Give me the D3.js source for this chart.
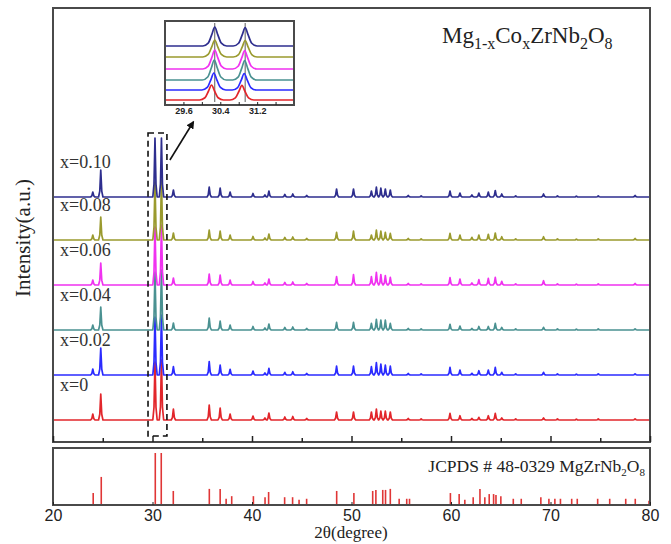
<!DOCTYPE html>
<html>
<head>
<meta charset="utf-8">
<script src="https://cdn.jsdelivr.net/npm/d3@7"></script>
<style>
  body { margin: 0; background: #fff; }
  svg { display: block; }
</style>
</head>
<body>
<svg width="671" height="544"></svg>
<script>
// ---- data ----
const seriesLabels = ['x=0', 'x=0.02', 'x=0.04', 'x=0.06', 'x=0.08', 'x=0.10']
const seriesColors = ['#e2262b', '#2b2bff', '#4a9191', '#f032f0', '#9a9a2e', '#2e2e8e']
const seriesOffset = [0, 45, 90, 135, 180, 223]

// 2theta of the diffraction peaks of the measured patterns
const peakPos = [24.0, 24.8, 30.25, 30.9, 32.1, 35.7, 36.8, 37.8, 40.1, 41.3, 41.7, 43.3, 44.1, 45.5,
  48.5, 50.2, 52.0, 52.5, 52.95, 53.4, 53.9, 55.7, 57.0, 59.9, 60.9, 62.1, 62.8, 63.75, 64.45, 65.1,
  66.5, 69.3, 70.7, 72.6, 74.8, 78.5]

// peak intensities (a.u.) for each composition
const int_x000 = [6, 26, 58, 60, 11, 15, 12, 6, 4, 2, 7, 3, 3.5, 1.5, 8, 8, 8, 11, 9, 9, 8, 1.5, 1, 6.7, 4.3, 1.5, 2.7, 4.3, 6.7, 2, 1, 2, 1, 0.8, 1, 1.2]
const int_x002 = [6, 27, 58, 60, 8.3, 13.3, 10, 5.7, 4, 2, 6.7, 2.7, 3.3, 1.5, 9, 9, 8.3, 12.3, 11, 10, 9, 1.5, 1, 7.7, 5, 1.7, 4.3, 5, 7.7, 2.7, 1, 2.7, 1, 0.8, 1.2, 1.2]
const int_x004 = [5, 23, 58, 60, 7, 12, 9, 5, 3.5, 2, 6, 2.5, 3, 1.5, 7.7, 7.7, 6.7, 10.7, 10, 10, 6.7, 1.5, 1, 5.7, 4, 1.5, 3.5, 3.5, 6.7, 2.5, 1, 2.7, 1, 0.8, 1, 1.2]
const int_x006 = [5, 22, 58, 60, 7, 11, 10, 5, 3.5, 2, 6, 2.5, 3, 1.5, 8.3, 10.3, 8.3, 12.7, 10.3, 9.3, 7.7, 1.5, 1, 7.3, 6, 2, 5.3, 6.7, 7.7, 3.7, 1, 4.3, 1, 0.8, 1, 1.5]
const int_x008 = [5, 23, 58, 60, 7, 10, 9, 5, 3.5, 2, 6, 2.5, 3, 1.5, 7.7, 9, 5, 10, 9, 7.7, 6.7, 1.5, 1, 6.7, 5, 2.7, 5, 5.7, 7, 3.3, 1, 3.3, 1, 0.8, 1, 1.5]
const int_x010 = [5, 27, 59, 59, 7, 10, 9, 5, 3.5, 2, 6, 2.5, 3, 1.5, 8, 8, 6, 10, 9, 8, 7, 1.5, 1, 6, 4, 2, 4, 5, 6.5, 3, 1, 3, 1, 0.8, 1, 1.5]
const seriesInt = [int_x000, int_x002, int_x004, int_x006, int_x008, int_x010]

// inset: the two strong reflections, zoomed
const insetPeakA = [30.21, 30.26, 30.27, 30.28, 30.28, 30.28]
const insetPeakB = [30.87, 30.92, 30.93, 30.93, 30.94, 30.94]
const insetHeight = [15, 17, 20, 19, 17, 19]
const insetOffset = [5, 15, 25, 36, 48, 59]
const insetTicks = [29.6, 30.0, 30.4, 30.8, 31.2, 31.6]

// JCPDS # 48-0329 reference lines
const refPos = [24.04, 24.85, 30.28, 30.88, 32.09, 35.71, 36.8, 37.4, 37.96, 40.14, 41.31, 41.67, 43.28,
  44.08, 44.73, 45.49, 48.51, 50.24, 52.13, 52.45, 53.14, 53.42, 53.9, 54.79, 55.55, 55.83, 59.94,
  60.82, 61.39, 62.23, 62.91, 63.4, 63.84, 64.28, 64.52, 65.01, 66.26, 67.06, 69.03, 69.84, 70.44,
  71.0, 72.13, 72.69, 74.74, 75.95, 77.56, 78.52, 79.9]
const refInt = [23, 54, 100, 100, 27, 31, 31, 12, 17, 17, 15, 25, 15, 15, 10, 12, 27, 23, 27, 29, 29,
  29, 31, 12, 12, 12, 23, 21, 10, 15, 31, 15, 21, 21, 19, 17, 12, 12, 15, 12, 12, 12, 12, 12, 12,
  12, 12, 12, 8]

const xTicks = [20, 30, 40, 50, 60, 70, 80]
const xMinor = [25, 35, 45, 55, 65, 75]

// ---- drawing ----
const svg = d3.select('svg')
const frame = '#4a4a4a'
const serif = "'Liberation Serif', 'Times New Roman', serif"
const sans = "'Liberation Sans', Arial, sans-serif"

// peak outlines (relative to half width / height)
const shapeMain = [[-1, 0], [-0.45, 0.22], [0, 1], [0.45, 0.22], [1, 0]]
const shapeInset = [[-1, 0], [-0.55, 0.15], [-0.25, 0.6], [0, 1], [0.25, 0.6], [0.55, 0.15], [1, 0]]
function profile(pos, ints, lo, hi, w, shape) {
  const pts = [[lo, 0]]
  pos.forEach((p, i) => shape.forEach(s => pts.push([p + s[0] * w, s[1] * ints[i]])))
  pts.push([hi, 0])
  return pts.sort((a, b) => a[0] - b[0])
}

let x = d3.scaleLinear().domain([20, 80]).range([53, 650]),
  y = d3.scaleLinear().domain([-22, 412]).range([442, 8])

svg.append('clipPath').attr('id', 'mainclip')
  .append('rect').attr('x', 53).attr('y', 8).attr('width', 597).attr('height', 434)

// main curves
const gMain = svg.append('g').attr('clip-path', 'url(#mainclip)')
seriesInt.forEach((ints, i) => {
  const line = d3.line()
    .x(d => x(d[0]))
    .y(d => y(d[1] + seriesOffset[i]))
  gMain.append('path')
    .attr('d', line(profile(peakPos, ints, 20, 80, 0.22, shapeMain)))
    .attr('fill', 'none')
    .attr('stroke', seriesColors[i])
    .attr('stroke-width', 1.7)
    .attr('stroke-linejoin', 'round')
})

// series labels
seriesLabels.forEach((lab, i) => {
  svg.append('text')
    .attr('x', 60)
    .attr('y', y(seriesOffset[i] + 29))
    .attr('font-family', serif)
    .attr('font-size', 18)
    .attr('fill', '#333')
    .text(lab)
})

// main frame and inward ticks
svg.append('rect').attr('x', 53).attr('y', 8).attr('width', 597).attr('height', 434)
  .attr('fill', 'none').attr('stroke', frame).attr('stroke-width', 2)
svg.append('g').attr('transform', 'translate(0,442)')
  .call(d3.axisBottom(x).tickValues(xTicks).tickSize(-6).tickFormat(''))
  .call(g => g.select('.domain').remove())
  .call(g => g.selectAll('line').attr('stroke', '#222').attr('stroke-width', 1.5))
svg.append('g').attr('transform', 'translate(0,442)')
  .call(d3.axisBottom(x).tickValues(xMinor).tickSize(-4).tickFormat(''))
  .call(g => g.select('.domain').remove())
  .call(g => g.selectAll('line').attr('stroke', '#222').attr('stroke-width', 1.5))

// formula title
const title = svg.append('text').attr('x', 442).attr('y', 43)
  .attr('font-family', serif).attr('font-size', 23).attr('fill', '#222')
title.append('tspan').text('Mg')
title.append('tspan').attr('font-size', 16).attr('dy', 6).text('1-x')
title.append('tspan').attr('dy', -6).text('Co')
title.append('tspan').attr('font-size', 16).attr('dy', 6).text('x')
title.append('tspan').attr('dy', -6).text('ZrNb')
title.append('tspan').attr('font-size', 16).attr('dy', 6).text('2')
title.append('tspan').attr('dy', -6).text('O')
title.append('tspan').attr('font-size', 16).attr('dy', 6).text('8')

// y label
svg.append('text')
  .attr('transform', 'translate(30,238) rotate(-90)')
  .attr('text-anchor', 'middle')
  .attr('font-family', serif)
  .attr('font-size', 21)
  .attr('fill', '#222')
  .text('Intensity(a.u.)')

// dashed box round the strong peaks and arrow to inset
svg.append('rect')
  .attr('x', x(29.55)).attr('y', y(287))
  .attr('width', x(31.45) - x(29.55)).attr('height', y(-16) - y(287))
  .attr('fill', 'none').attr('stroke', '#111').attr('stroke-width', 1.6)
  .attr('stroke-dasharray', '6,4')

svg.append('defs').append('marker')
  .attr('id', 'head').attr('viewBox', '0 0 10 10').attr('refX', 8).attr('refY', 5)
  .attr('markerWidth', 5).attr('markerHeight', 5).attr('orient', 'auto')
  .append('path').attr('d', 'M0,0L10,5L0,10z').attr('fill', '#111')
svg.append('line')
  .attr('x1', x(31.75)).attr('y1', y(260))
  .attr('x2', x(34.1)).attr('y2', y(298))
  .attr('stroke', '#111').attr('stroke-width', 1.6)
  .attr('marker-end', 'url(#head)')

// ---- inset ----
let xi = d3.scaleLinear().domain([29.2, 32.0]).range([165, 294]),
  yi = d3.scaleLinear().domain([0, 84]).range([105, 21])

svg.append('rect').attr('x', 165).attr('y', 21).attr('width', 129).attr('height', 84)
  .attr('fill', '#fff')
;[30.28, 30.94].forEach(p => {
  svg.append('line').attr('x1', xi(p)).attr('x2', xi(p)).attr('y1', 23).attr('y2', 102)
    .attr('stroke', '#333').attr('stroke-width', 0.8)
})
insetHeight.forEach((h, i) => {
  const line = d3.line().curve(d3.curveMonotoneX)
    .x(d => xi(d[0]))
    .y(d => yi(d[1] + insetOffset[i]))
  svg.append('path')
    .attr('d', line(profile([insetPeakA[i], insetPeakB[i]], [h, h * 0.97], 29.2, 32.0, 0.26, shapeInset)))
    .attr('fill', 'none')
    .attr('stroke', seriesColors[i])
    .attr('stroke-width', 1.7)
})
svg.append('rect').attr('x', 165).attr('y', 21).attr('width', 129).attr('height', 84)
  .attr('fill', 'none').attr('stroke', frame).attr('stroke-width', 2)
svg.append('g').attr('transform', 'translate(0,105)')
  .call(d3.axisBottom(xi).tickValues(insetTicks).tickSize(-3).tickPadding(3)
    .tickFormat(d => [29.6, 30.4, 31.2].includes(d) ? d3.format('.1f')(d) : ''))
  .call(g => g.select('.domain').remove())
  .call(g => g.selectAll('line').attr('stroke', '#222'))
  .call(g => g.selectAll('text').attr('font-family', sans).attr('font-size', 9)
    .attr('font-weight', 'bold').attr('fill', '#222'))

// ---- JCPDS panel ----
let yr = d3.scaleLinear().domain([0, 100]).range([505, 453])

svg.append('g').selectAll('line')
  .data(refPos)
  .enter()
  .append('line')
  .attr('x1', d => x(d)).attr('x2', d => x(d))
  .attr('y1', yr(0))
  .attr('y2', (d, i) => yr(refInt[i]))
  .attr('stroke', '#e03636')
  .attr('stroke-width', 1.6)

svg.append('rect').attr('x', 53).attr('y', 448).attr('width', 597).attr('height', 57)
  .attr('fill', 'none').attr('stroke', frame).attr('stroke-width', 2)

svg.append('g').attr('transform', 'translate(0,505)')
  .call(d3.axisBottom(x).tickValues(xTicks).tickSize(-3).tickPadding(5))
  .call(g => g.select('.domain').remove())
  .call(g => g.selectAll('line').attr('stroke', '#222'))
  .call(g => g.selectAll('text').attr('font-family', sans).attr('font-size', 16).attr('fill', '#222'))

const ref = svg.append('text').attr('x', 645).attr('y', 472).attr('text-anchor', 'end')
  .attr('font-family', serif).attr('font-size', 17.5).attr('fill', '#222')
ref.append('tspan').text('JCPDS # 48-0329 MgZrNb')
ref.append('tspan').attr('font-size', 11).attr('dy', 4).text('2')
ref.append('tspan').attr('dy', -4).text('O')
ref.append('tspan').attr('font-size', 11).attr('dy', 4).text('8')

svg.append('text')
  .attr('x', 351).attr('y', 538)
  .attr('text-anchor', 'middle')
  .attr('font-family', serif)
  .attr('font-size', 17)
  .attr('fill', '#222')
  .text('2θ(degree)')
</script>
</body>
</html>
